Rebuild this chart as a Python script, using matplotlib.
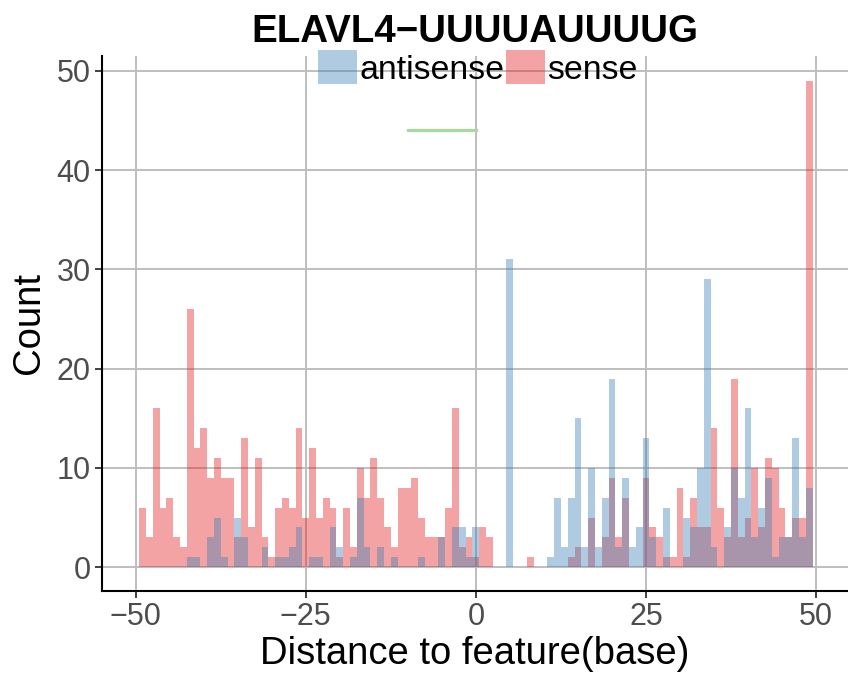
import matplotlib
matplotlib.use("Agg")
import matplotlib.pyplot as plt
from matplotlib.patches import Patch
import numpy as np

plt.rcParams["font.family"] = ["Liberation Sans", "DejaVu Sans"]

# bin centres (binwidth 1)
positions = np.arange(-49, 50)

sense = [
    6, 3, 16, 6, 7, 3, 2, 26, 12, 14,      # -49 .. -40
    9, 11, 9, 9, 3, 13, 4, 11, 3, 1,       # -39 .. -30
    6, 7, 6, 14, 5, 12, 5, 7, 6, 1,        # -29 .. -20
    6, 2, 10, 7, 11, 7, 4, 2, 8, 8,        # -19 .. -10
    9, 5, 3, 3, 3, 6, 16, 2, 3,            # -9 .. -1
    1,                                     # 0
    4, 3, 0, 0, 0, 0, 0, 1, 0, 0,          # 1 .. 10
    0, 0, 0, 1, 2, 0, 5, 0, 3, 9,          # 11 .. 20
    3, 7, 0, 0, 9, 4, 3, 1, 1, 8,          # 21 .. 30
    1, 7, 4, 4, 14, 6, 3, 19, 3, 5,        # 31 .. 40
    10, 4, 11, 10, 6, 3, 5, 5, 49,         # 41 .. 49
]

antisense = [
    0, 0, 0, 0, 0, 0, 0, 1, 1, 0,          # -49 .. -40
    3, 5, 1, 0, 5, 3, 0, 0, 2, 0,          # -39 .. -30
    1, 1, 2, 4, 0, 1, 1, 0, 4, 2,          # -29 .. -20
    0, 1, 7, 2, 0, 2, 0, 1, 0, 0,          # -19 .. -10
    0, 1, 0, 0, 3, 0, 4, 4, 1,             # -9 .. -1
    4,                                     # 0
    0, 0, 0, 0, 31, 0, 0, 0, 0, 0,         # 1 .. 10
    1, 7, 2, 7, 15, 2, 10, 2, 7, 19,       # 11 .. 20
    2, 9, 2, 4, 13, 3, 0, 6, 0, 0,         # 21 .. 30
    5, 4, 10, 29, 2, 0, 4, 10, 7, 16,      # 31 .. 40
    3, 6, 9, 1, 3, 3, 13, 3, 8,            # 41 .. 49
]

motif_start, motif_end, motif_y = -10, 0, 44

RED = "#E41A1C"
BLUE = "#377EB8"
GREEN = "#A6DBA0"

fig = plt.figure(figsize=(8.48, 6.79), dpi=100)
ax = fig.add_axes([101.7 / 848, 88 / 679, 1 - 101.7 / 848, 535 / 679])

ax.bar(positions, sense, width=1.0, color=RED, alpha=0.4, linewidth=0, zorder=2)
ax.bar(positions, antisense, width=1.0, color=BLUE, alpha=0.4, linewidth=0, zorder=3)
ax.plot([motif_start, motif_end], [motif_y, motif_y], color=GREEN, linewidth=2.3, zorder=4)

ax.set_xlim(-55.0, 54.7)
ax.set_ylim(-2.4, 51.5)
ax.set_xticks([-50, -25, 0, 25, 50])
ax.set_yticks([0, 10, 20, 30, 40, 50])
ax.grid(True, color="#bebebe", linewidth=1.4, zorder=0)
ax.set_axisbelow(True)

for side in ["top", "right"]:
    ax.spines[side].set_visible(False)
for side in ["left", "bottom"]:
    ax.spines[side].set_linewidth(1.5)
    ax.spines[side].set_color("black")

ax.tick_params(axis="both", labelsize=22, labelcolor="#4d4d4d", length=5, width=1.3, color="#333333", pad=3)

ax.set_xlabel("Distance to feature(base)", fontsize=27.5, labelpad=3)
ax.set_ylabel("Count", fontsize=27.5, labelpad=7)

fig.text(475 / 848, 1 - 32 / 679, "ELAVL4\u2212UUUUAUUUUG", fontsize=27.7, fontweight="bold",
         ha="center", va="center")

handles = [Patch(facecolor=BLUE, alpha=0.4, edgecolor="none"),
           Patch(facecolor=RED, alpha=0.4, edgecolor="none")]
fig.legend(handles, ["antisense", "sense"], loc="center", bbox_to_anchor=(478 / 848, 1 - 68 / 679),
           ncol=2, frameon=False, fontsize=24.4, handlelength=1.15, handleheight=1.15,
           handletextpad=0.06, columnspacing=0.06, borderpad=0)

fig.savefig("out.png", dpi=100)
